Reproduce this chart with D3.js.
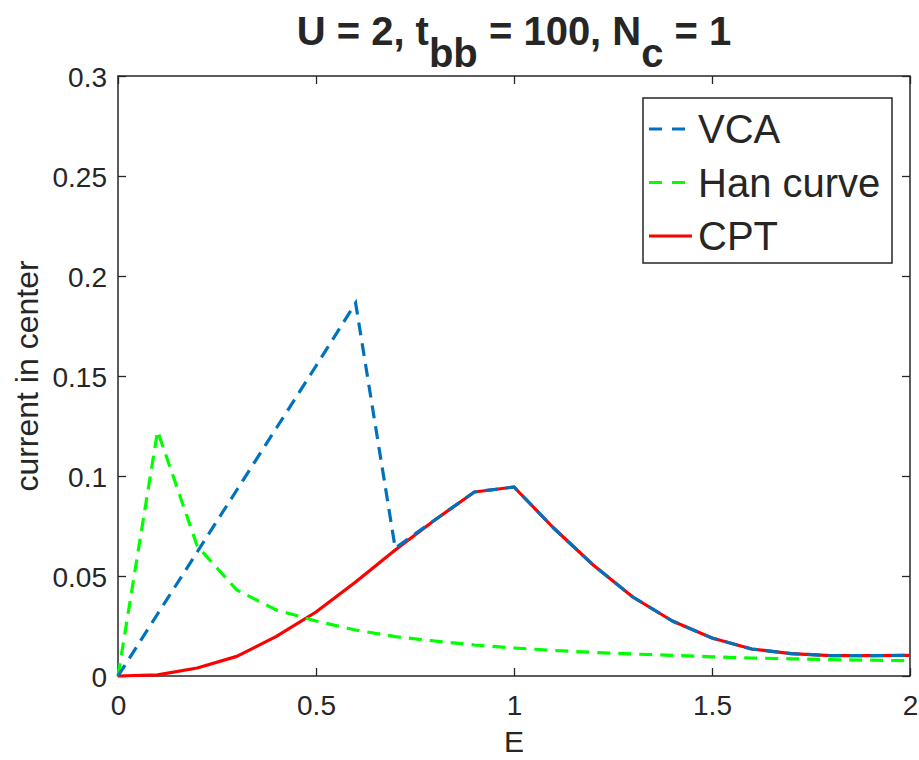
<!DOCTYPE html>
<html>
<head>
<meta charset="utf-8">
<script src="https://cdn.jsdelivr.net/npm/d3@7"></script>
<style>
  html, body { margin: 0; padding: 0; background: #fff; }
  svg { display: block; }
  text { font-family: "Liberation Sans", Arial, Helvetica, sans-serif; fill: #262626; }
</style>
</head>
<body>
<svg id="chart" width="919" height="760"></svg>
<script>
// Energy grid
const energy = [0, 0.1, 0.2, 0.3, 0.4, 0.5, 0.6, 0.7, 0.8, 0.9, 1.0,
                1.1, 1.2, 1.3, 1.4, 1.5, 1.6, 1.7, 1.8, 1.9, 2.0];

// Current in the center for each method
const vca = [0, 0.031, 0.062, 0.093, 0.124, 0.155, 0.1865, 0.064, 0.078, 0.092, 0.0945,
             0.074, 0.0555, 0.0395, 0.0275, 0.019, 0.0135, 0.0112, 0.0102, 0.0102, 0.0103];
const han = [0, 0.1225, 0.065, 0.043, 0.033, 0.0275, 0.023, 0.0197, 0.0175, 0.0155, 0.014,
             0.0128, 0.0118, 0.011, 0.0103, 0.0096, 0.009, 0.0086, 0.0082, 0.0079, 0.0076];
const cpt = [0, 0.0006, 0.004, 0.0098, 0.0198, 0.032, 0.047, 0.063, 0.078, 0.092, 0.0945,
             0.074, 0.0555, 0.0395, 0.0275, 0.019, 0.0135, 0.0112, 0.0102, 0.0102, 0.0103];

const xTicks = [0, 0.5, 1, 1.5, 2];
const yTicks = [0, 0.05, 0.1, 0.15, 0.2, 0.25, 0.3];

const seriesNames = ["VCA", "Han curve", "CPT"];
const seriesColors = ["#0072BD", "#00FF00", "#FF0000"];

const svg = d3.select("#chart");
const box = { left: 118, right: 910, top: 76, bottom: 676 };

const x = d3.scaleLinear().domain([0, 2]).range([box.left, box.right]);
const y = d3.scaleLinear().domain([0, 0.3]).range([box.bottom, box.top]);

const axisColor = "#262626";
const tickLen = 8;

// Axes: ticks point inward, mirrored on top and right
const fmt = d => d3.format("~g")(d);
const gx = svg.append("g").attr("transform", `translate(0,${box.bottom})`)
  .call(d3.axisBottom(x).tickValues(xTicks).tickFormat(fmt).tickSize(-tickLen).tickPadding(0));
const gxTop = svg.append("g").attr("transform", `translate(0,${box.top})`)
  .call(d3.axisTop(x).tickValues(xTicks).tickFormat("").tickSize(-tickLen));
const gy = svg.append("g").attr("transform", `translate(${box.left},0)`)
  .call(d3.axisLeft(y).tickValues(yTicks).tickFormat(fmt).tickSize(-tickLen).tickPadding(0));
const gyRight = svg.append("g").attr("transform", `translate(${box.right},0)`)
  .call(d3.axisRight(y).tickValues(yTicks).tickFormat("").tickSize(-tickLen));

[gx, gxTop, gy, gyRight].forEach(g => {
  g.select(".domain").remove();
  g.selectAll(".tick line").attr("stroke", axisColor).attr("stroke-width", 1.3);
});
gx.selectAll(".tick text")
  .attr("y", 39).attr("dy", 0)
  .attr("font-size", 28).attr("fill", axisColor);
gy.selectAll(".tick text")
  .attr("x", -11).attr("dy", "0.36em")
  .attr("font-size", 28).attr("fill", axisColor);

svg.append("rect")
  .attr("x", box.left).attr("y", box.top)
  .attr("width", box.right - box.left).attr("height", box.bottom - box.top)
  .attr("fill", "none").attr("stroke", axisColor).attr("stroke-width", 1.5);

// Curves
const line = vals => d3.line()
  .x((d, i) => x(energy[i]))
  .y(d => y(d))(vals);

const plot = svg.append("g");
plot.append("path").attr("d", line(cpt))
  .attr("fill", "none").attr("stroke", seriesColors[2]).attr("stroke-width", 3.2)
  .attr("stroke-linejoin", "round");
plot.append("path").attr("d", line(han))
  .attr("fill", "none").attr("stroke", seriesColors[1]).attr("stroke-width", 3.2)
  .attr("stroke-dasharray", "13,8");
plot.append("path").attr("d", line(vca))
  .attr("fill", "none").attr("stroke", seriesColors[0]).attr("stroke-width", 3.2)
  .attr("stroke-dasharray", "13,8");

// Title with subscripts
const title = svg.append("text")
  .attr("x", (box.left + box.right) / 2).attr("y", 45)
  .attr("text-anchor", "middle")
  .attr("font-size", 40).attr("font-weight", "bold").attr("fill", "#000")
  .style("white-space", "pre");
const subShift = 22;
title.append("tspan").text("U = 2, t");
title.append("tspan").attr("dy", subShift).text("bb");
title.append("tspan").attr("dy", -subShift).text(" = 100, N");
title.append("tspan").attr("dy", subShift).text("c");
title.append("tspan").attr("dy", -subShift).text(" = 1");

// Axis labels
svg.append("text")
  .attr("x", (box.left + box.right) / 2).attr("y", 752)
  .attr("text-anchor", "middle").attr("font-size", 30).attr("fill", axisColor)
  .text("E");
svg.append("text")
  .attr("transform", `translate(38,${(box.top + box.bottom) / 2}) rotate(-90)`)
  .attr("text-anchor", "middle").attr("font-size", 32).attr("fill", axisColor)
  .text("current in center");

// Legend
const lg = svg.append("g");
lg.append("rect")
  .attr("x", 643).attr("y", 98).attr("width", 249).attr("height", 165)
  .attr("fill", "#fff").attr("stroke", axisColor).attr("stroke-width", 1.5);
const rowY = [129, 182.5, 236];
seriesNames.forEach((name, i) => {
  lg.append("line")
    .attr("x1", 649).attr("x2", 692).attr("y1", rowY[i]).attr("y2", rowY[i])
    .attr("stroke", seriesColors[i]).attr("stroke-width", 3.2)
    .attr("stroke-dasharray", i < 2 ? "13,10" : null);
  lg.append("text")
    .attr("x", 698).attr("y", rowY[i] + 14)
    .attr("font-size", 40).attr("fill", "#000")
    .text(name);
});
</script>
</body>
</html>
